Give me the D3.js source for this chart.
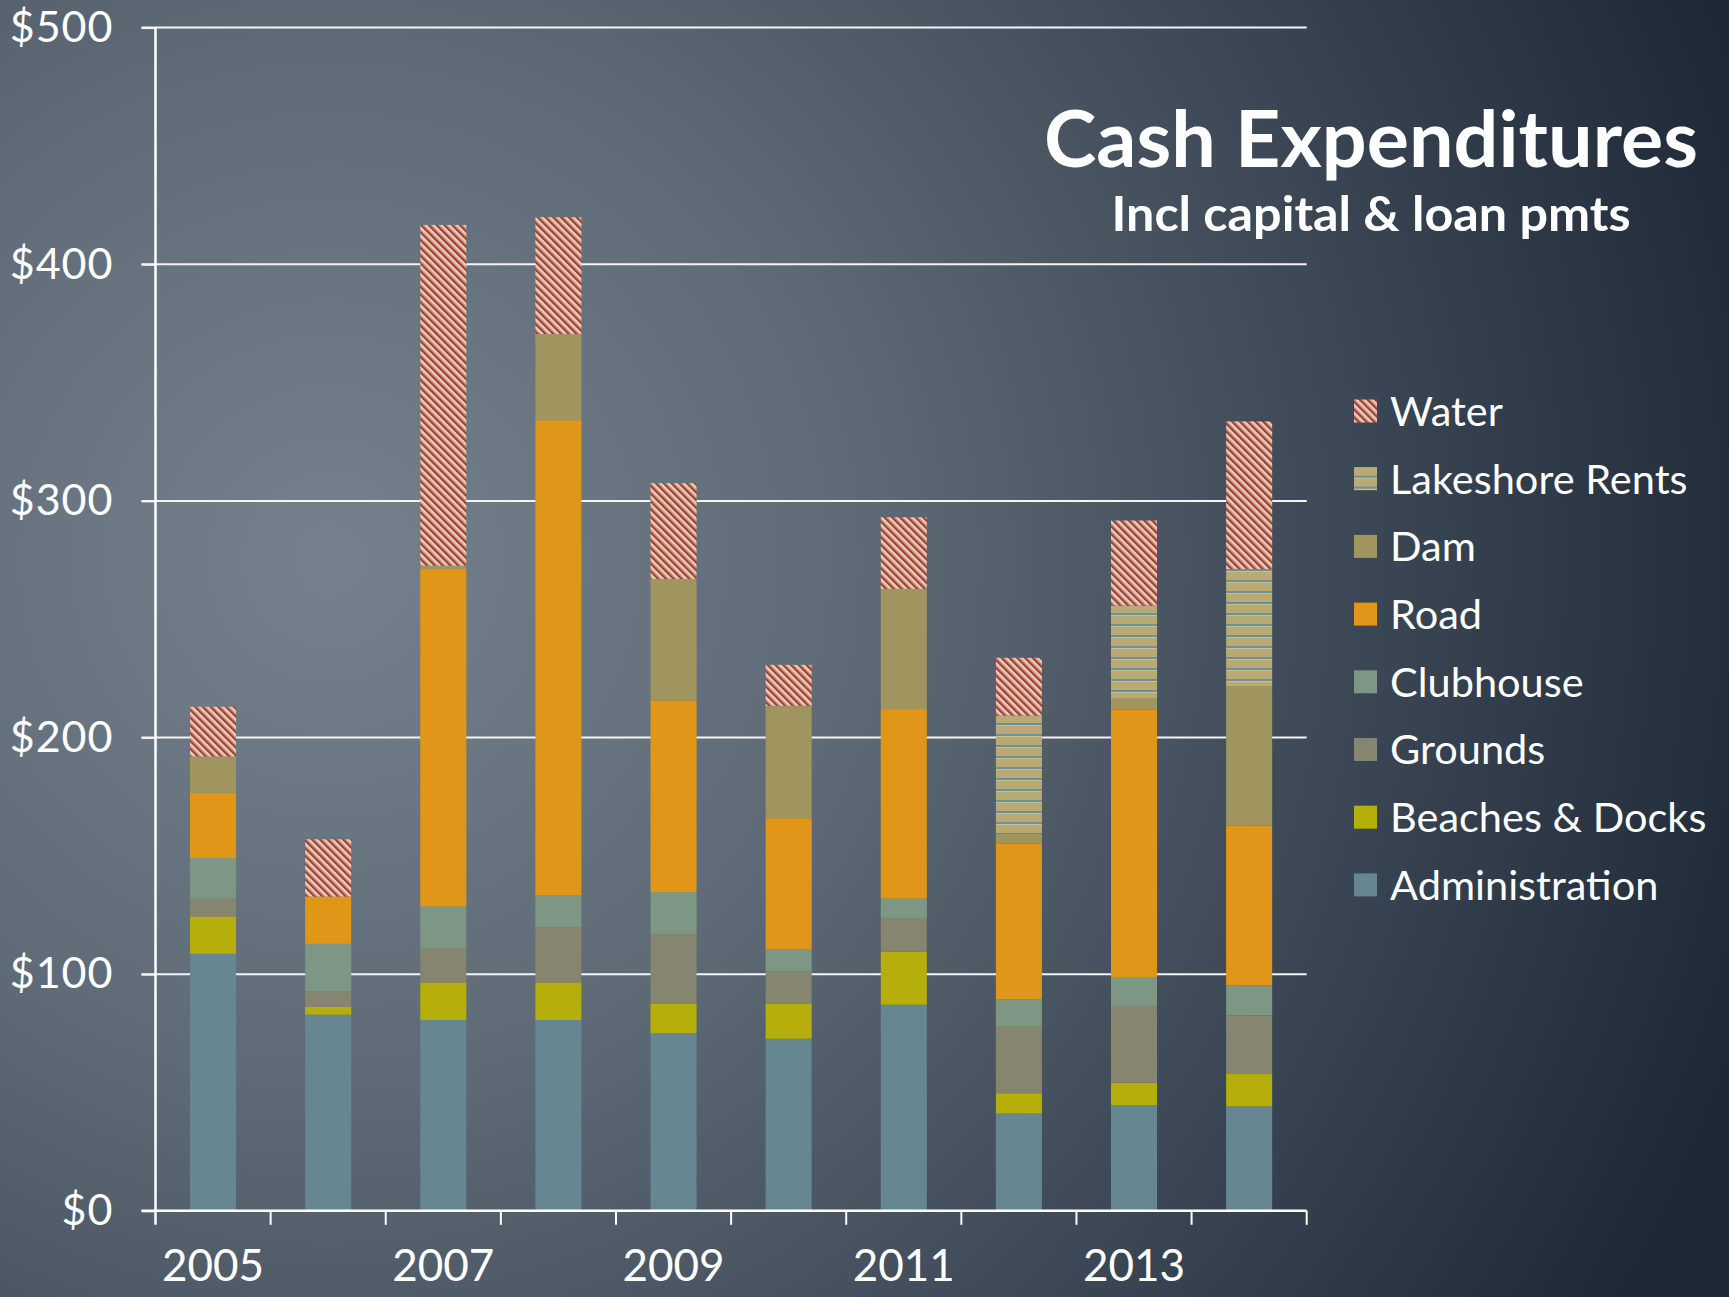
<!DOCTYPE html>
<html>
<head>
<meta charset="utf-8">
<script src="https://cdn.jsdelivr.net/npm/d3@7"></script>
<style>
  body { margin: 0; background: #2a3643; }
  svg { display: block; }
</style>
</head>
<body>
<div id="chart"></div>
<script>
// cash expenditures, in $ thousands, one value per year
var years = ["2005","2006","2007","2008","2009","2010","2011","2012","2013","2014"];
var yearLabels = ["2005","2007","2009","2011","2013"];
var yTicks = [0, 100, 200, 300, 400, 500];

var administration = [108.6, 82.9, 80.6, 80.6, 75.0, 72.7, 87.1, 41.1, 44.7, 44.1];
var beaches        = [15.8, 3.3, 15.9, 15.9, 12.6, 14.9, 22.4, 8.6, 9.4, 13.7];
var grounds        = [7.5, 6.5, 14.4, 23.3, 29.4, 13.5, 14.0, 28.4, 32.5, 24.8];
var clubhouse      = [17.2, 20.1, 17.7, 13.5, 17.7, 9.3, 8.4, 11.2, 12.2, 12.6];
var road           = [27.5, 20.0, 142.6, 200.8, 81.0, 55.5, 80.1, 65.8, 112.9, 67.7];
var dam            = [15.4, 0, 1.4, 36.4, 51.3, 47.5, 50.8, 4.3, 4.7, 58.6];
var lakeshore      = [0, 0, 0, 0, 0, 0, 0, 49.9, 39.4, 49.7];
var water          = [21.0, 24.2, 144.0, 49.4, 40.5, 17.3, 30.3, 24.4, 35.9, 62.4];

var keys = ["Administration","Beaches & Docks","Grounds","Clubhouse","Road","Dam","Lakeshore Rents","Water"];
var series = [administration, beaches, grounds, clubhouse, road, dam, lakeshore, water];

var W = 1729, H = 1297;

var svg = d3.select("#chart").append("svg")
  .attr("width", W)
  .attr("height", H);

var defs = svg.append("defs");

// background
var bg = defs.append("radialGradient")
  .attr("id", "bg")
  .attr("gradientUnits", "userSpaceOnUse")
  .attr("cx", 330).attr("cy", 560).attr("r", 1500);
bg.append("stop").attr("offset", "0%").attr("stop-color", "#75828d");
bg.append("stop").attr("offset", "35%").attr("stop-color", "#5e6b77");
bg.append("stop").attr("offset", "70%").attr("stop-color", "#3a4653");
bg.append("stop").attr("offset", "100%").attr("stop-color", "#1c2836");

svg.append("rect").attr("width", W).attr("height", H).attr("fill", "url(#bg)");

// water: red / cream diagonal stripes
var pw = defs.append("pattern")
  .attr("id", "waterPat")
  .attr("patternUnits", "userSpaceOnUse")
  .attr("width", 5.5).attr("height", 6)
  .attr("patternTransform", "rotate(-45)");
pw.append("rect").attr("width", 5.5).attr("height", 6).attr("fill", "#e4d2b8");
pw.append("rect").attr("width", 2.4).attr("height", 6).attr("fill", "#a63c3a");
pw.append("rect").attr("x", 2.4).attr("width", 0.8).attr("height", 6).attr("fill", "#c98a78");

// lakeshore rents: tan with thin blue lines
var pl = defs.append("pattern")
  .attr("id", "lakePat")
  .attr("patternUnits", "userSpaceOnUse")
  .attr("width", 10).attr("height", 11);
pl.append("rect").attr("width", 10).attr("height", 11).attr("fill", "#b8aa72");
pl.append("rect").attr("y", 8).attr("width", 10).attr("height", 2).attr("fill", "#6e9198");
pl.append("rect").attr("y", 10).attr("width", 10).attr("height", 1).attr("fill", "#c9bf94");

var fills = {
  "Administration": "#668791",
  "Beaches & Docks": "#b6ae0b",
  "Grounds": "#858570",
  "Clubhouse": "#7e9785",
  "Road": "#e09719",
  "Dam": "#a0955e",
  "Lakeshore Rents": "url(#lakePat)",
  "Water": "url(#waterPat)"
};

var x0 = 155.5, x1 = 1306.7, yBot = 1210.8, yTop = 27.6;

var xBand = d3.scaleBand().domain(years).range([x0, x1]).padding(0);
var x = d3.scaleBand().domain(years).range([x0, x1]).paddingInner(0.6).paddingOuter(0.3);
var y = d3.scaleLinear().domain([0, 500]).range([yBot, yTop]);

var table = years.map(function(yr, i) {
  var row = { year: yr };
  keys.forEach(function(k, j) { row[k] = series[j][i]; });
  return row;
});

var stacked = d3.stack().keys(keys)(table);

// gridlines
svg.append("g").selectAll("line")
  .data(yTicks.slice(1))
  .enter().append("line")
  .attr("x1", x0 - 14).attr("x2", x1)
  .attr("y1", function(d) { return y(d); })
  .attr("y2", function(d) { return y(d); })
  .attr("stroke", "#f4f4f4")
  .attr("stroke-width", 2);

// bars
var layer = svg.append("g").selectAll(".layer")
  .data(stacked)
  .enter().append("g")
  .attr("class", "layer")
  .attr("fill", function(d) { return fills[d.key]; });

layer.selectAll("rect")
  .data(function(d) { return d; })
  .enter().append("rect")
  .attr("x", function(d) { return x(d.data.year); })
  .attr("width", x.bandwidth())
  .attr("y", function(d) { return y(d[1]); })
  .attr("height", function(d) { return Math.max(0, y(d[0]) - y(d[1])); });

// y axis
var yAxis = d3.axisLeft(y)
  .tickValues(yTicks)
  .tickSize(14)
  .tickPadding(28)
  .tickFormat(function(d) { return "$" + d; });

var gy = svg.append("g")
  .attr("transform", "translate(" + x0 + ",0)")
  .call(yAxis);
gy.select(".domain").remove();
gy.selectAll(".tick line").attr("stroke", "#f4f4f4").attr("stroke-width", 2);
gy.selectAll(".tick text")
  .attr("fill", "#ffffff")
  .style("font-family", "Lato, 'Noto Sans', sans-serif")
  .style("font-size", "43px")
  .style("letter-spacing", "1px");

svg.append("line")
  .attr("x1", x0).attr("x2", x0)
  .attr("y1", yTop).attr("y2", yBot + 14)
  .attr("stroke", "#ffffff").attr("stroke-width", 2.5);

// x axis
svg.append("line")
  .attr("x1", x0 - 14).attr("x2", x1)
  .attr("y1", yBot).attr("y2", yBot)
  .attr("stroke", "#ffffff").attr("stroke-width", 2.5);

var bounds = years.map(function(d) { return xBand(d); }).concat([x1]);
svg.append("g").selectAll("line")
  .data(bounds.slice(1))
  .enter().append("line")
  .attr("x1", function(d) { return d; })
  .attr("x2", function(d) { return d; })
  .attr("y1", yBot).attr("y2", yBot + 14)
  .attr("stroke", "#ffffff").attr("stroke-width", 2);

svg.append("g").selectAll("text")
  .data(yearLabels)
  .enter().append("text")
  .attr("x", function(d) { return xBand(d) + xBand.bandwidth() / 2; })
  .attr("y", 1281)
  .attr("text-anchor", "middle")
  .attr("fill", "#ffffff")
  .style("font-family", "Lato, 'Noto Sans', sans-serif")
  .style("font-size", "44px")
  .text(function(d) { return d; });

// title
svg.append("text")
  .attr("x", 1371).attr("y", 167)
  .attr("text-anchor", "middle")
  .attr("fill", "#ffffff")
  .attr("textLength", 654)
  .attr("lengthAdjust", "spacingAndGlyphs")
  .style("font-family", "Lato, sans-serif")
  .style("font-weight", "bold")
  .style("font-size", "78px")
  .text("Cash Expenditures");

svg.append("text")
  .attr("x", 1371).attr("y", 231)
  .attr("text-anchor", "middle")
  .attr("fill", "#ffffff")
  .attr("textLength", 519)
  .attr("lengthAdjust", "spacingAndGlyphs")
  .style("font-family", "Lato, sans-serif")
  .style("font-weight", "bold")
  .style("font-size", "48px")
  .text("Incl capital & loan pmts");

// legend
var legend = svg.append("g").selectAll("g")
  .data(keys.slice().reverse())
  .enter().append("g")
  .attr("transform", function(d, i) { return "translate(1354," + (411 + i * 67.7) + ")"; });

legend.append("rect")
  .attr("x", 0).attr("y", -11.5)
  .attr("width", 23).attr("height", 23)
  .attr("fill", function(d) { return fills[d]; });

legend.append("text")
  .attr("x", 36).attr("y", 0)
  .attr("dy", "0.36em")
  .attr("fill", "#ffffff")
  .style("font-family", "Lato, 'Noto Sans', sans-serif")
  .style("font-size", "41.5px")
  .text(function(d) { return d; });
</script>
</body>
</html>
